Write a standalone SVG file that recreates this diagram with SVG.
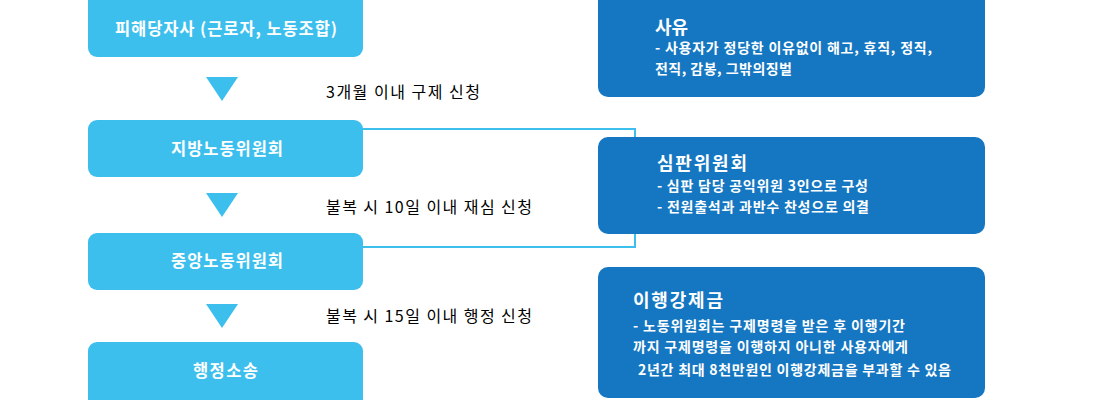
<svg xmlns="http://www.w3.org/2000/svg" width="1100" height="400" viewBox="0 0 1100 400">
<style>
.lb{fill:#3dbfee}
.db{fill:#1577c1}
.nt{font-family:"Noto Sans CJK KR","Noto Sans",sans-serif;font-size:16.5px;font-weight:bold;fill:#ffffff}
.lbl{font-family:"Noto Sans CJK KR","Noto Sans",sans-serif;font-size:16px;fill:#000000}
.tt{font-family:"Noto Sans CJK KR","Noto Sans",sans-serif;font-size:18px;font-weight:bold;fill:#ffffff}
.st{font-family:"Noto Sans CJK KR","Noto Sans",sans-serif;font-size:14px;font-weight:bold;fill:#ffffff}
.tri{fill:#3dbfee}
.con{fill:none;stroke:#3dbfee;stroke-width:2}
</style>
<g id="connectors">
<path class="con" d="M362,129 H635 V247 H362"/>
<polygon class="tri" points="206,77 238,77 222,101"/>
<polygon class="tri" points="206,193 238,193 222,217"/>
<polygon class="tri" points="206,304 238,304 222,328"/>
</g>
<g id="n1"><rect class="lb" x="88" y="-10" width="275" height="67" rx="9"/><text class="nt" x="115" y="35" textLength="222" lengthAdjust="spacing">피해당자사 (근로자, 노동조합)</text></g>
<g id="n2"><rect class="lb" x="88" y="120" width="275" height="57" rx="9"/><text class="nt" x="171" y="155" textLength="112" lengthAdjust="spacing">지방노동위원회</text></g>
<g id="n3"><rect class="lb" x="88" y="233" width="275" height="57" rx="9"/><text class="nt" x="171" y="267" textLength="112" lengthAdjust="spacing">중앙노동위원회</text></g>
<g id="n4"><rect class="lb" x="88" y="342" width="275" height="67" rx="9"/><text class="nt" x="193" y="377" textLength="65" lengthAdjust="spacing">행정소송</text></g>
<g id="labels">
<text class="lbl" x="326" y="98" textLength="154" lengthAdjust="spacing">3개월 이내 구제 신청</text>
<text class="lbl" x="326" y="213" textLength="206" lengthAdjust="spacing">불복 시 10일 이내 재심 신청</text>
<text class="lbl" x="326" y="322" textLength="206" lengthAdjust="spacing">불복 시 15일 이내 행정 신청</text>
</g>
<g id="b1"><rect class="db" x="598" y="-10" width="387" height="107" rx="10"/>
<text class="tt" x="655" y="34">사유</text>
<text class="st" x="655" y="53" textLength="277" lengthAdjust="spacing">- 사용자가 정당한 이유없이 해고, 휴직, 정직,</text>
<text class="st" x="655" y="74" textLength="137" lengthAdjust="spacing">전직, 감봉, 그밖의징벌</text></g>
<g id="b2"><rect class="db" x="598" y="137" width="387" height="97" rx="10"/>
<text class="tt" x="657" y="170" textLength="90" lengthAdjust="spacing">심판위원회</text>
<text class="st" x="657" y="191" textLength="211" lengthAdjust="spacing">- 심판 담당 공익위원 3인으로 구성</text>
<text class="st" x="657" y="212" textLength="212" lengthAdjust="spacing">- 전원출석과 과반수 찬성으로 의결</text></g>
<g id="b3"><rect class="db" x="598" y="267" width="387" height="131" rx="10"/>
<text class="tt" x="633" y="307" textLength="90" lengthAdjust="spacing">이행강제금</text>
<text class="st" x="633" y="331" textLength="272" lengthAdjust="spacing">- 노동위원회는 구제명령을 받은 후 이행기간</text>
<text class="st" x="633" y="352" textLength="275" lengthAdjust="spacing">까지 구제명령을 이행하지 아니한 사용자에게</text>
<text class="st" x="638" y="375" textLength="313" lengthAdjust="spacing">2년간 최대 8천만원인 이행강제금을 부과할 수 있음</text></g>
</svg>
